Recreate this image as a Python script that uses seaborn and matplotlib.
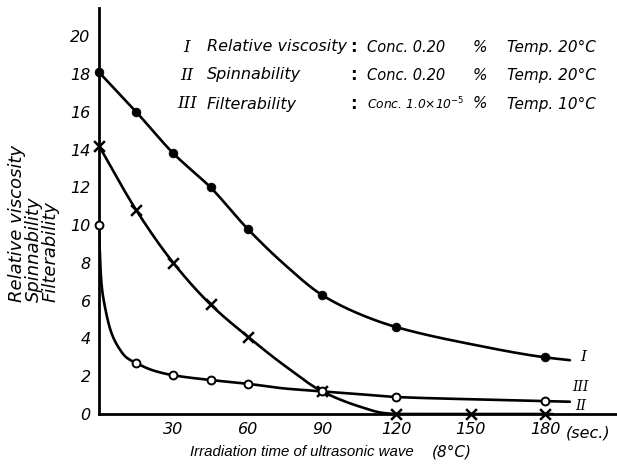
import numpy as np
import pandas as pd
import matplotlib
matplotlib.use("Agg")
import matplotlib.pyplot as plt
import seaborn as sns

# marker data
t_visc = [0, 15, 30, 45, 60, 90, 120, 180]
v_visc = [18.1, 16.0, 13.8, 12.0, 9.8, 6.3, 4.6, 3.0]
t_spin = [0, 15, 30, 45, 60, 90, 120, 150, 180]
v_spin = [14.2, 10.8, 8.0, 5.8, 4.1, 1.2, 0.0, 0.0, 0.0]
t_filt = [0, 15, 30, 45, 60, 90, 120, 180]
v_filt = [10.0, 2.7, 2.05, 1.8, 1.6, 1.2, 0.9, 0.7]

# traced points along the drawn curves
tr_visc_t = [0, 15, 30, 45, 60, 75, 90, 105, 120, 150, 180, 190]
tr_visc_v = [18.1, 16.0, 13.8, 12.0, 9.8, 7.9, 6.3, 5.3, 4.6, 3.7, 3.0, 2.85]
tr_spin_t = [0, 15, 30, 45, 60, 75, 90, 105, 115, 120, 150, 180, 183]
tr_spin_v = [14.2, 10.8, 8.0, 5.8, 4.1, 2.55, 1.2, 0.4, 0.05, 0.0, 0.0, 0.0, 0.0]
tr_filt_t = [0, 0.5, 1, 2.5, 5, 8, 11, 15, 22, 30, 45, 60, 75, 90, 105, 120, 150, 180, 190]
tr_filt_v = [10.0, 8.0, 6.9, 5.6, 4.3, 3.5, 3.0, 2.7, 2.3, 2.05, 1.8, 1.6, 1.35, 1.2, 1.05, 0.9, 0.78, 0.68, 0.65]

y_ticks = list(range(0, 21, 2))
x_ticks = [30, 60, 90, 120, 150, 180]

legend_rows = [
    ("I", "Relative viscosity", "Conc. 0.20", "%", "Temp. 20°C"),
    ("II", "Spinnability", "Conc. 0.20", "%", "Temp. 20°C"),
    ("III", "Filterability", "Conc. 1.0×10$^{-5}$", "%", "Temp. 10°C"),
]


def pchip(x, y, xn):
    x = np.asarray(x, float); y = np.asarray(y, float)
    h = np.diff(x); d = np.diff(y) / h
    m = np.zeros_like(y)
    for k in range(1, len(x) - 1):
        if d[k - 1] * d[k] > 0:
            w1 = 2 * h[k] + h[k - 1]; w2 = h[k] + 2 * h[k - 1]
            m[k] = (w1 + w2) / (w1 / d[k - 1] + w2 / d[k])
    m[0] = d[0]; m[-1] = d[-1]
    idx = np.clip(np.searchsorted(x, xn) - 1, 0, len(h) - 1)
    s = (xn - x[idx]) / h[idx]
    h00 = 2 * s**3 - 3 * s**2 + 1; h10 = s**3 - 2 * s**2 + s
    h01 = -2 * s**3 + 3 * s**2; h11 = s**3 - s**2
    return h00 * y[idx] + h10 * h[idx] * m[idx] + h01 * y[idx + 1] + h11 * h[idx] * m[idx + 1]


sns.set_theme(style="white")
plt.rcParams['font.family'] = ['DejaVu Sans']
plt.rcParams['text.color'] = 'black'
plt.rcParams['mathtext.fontset'] = 'dejavusans'

fig = plt.figure(figsize=(6.17, 4.66), dpi=100)
ax = fig.add_axes([99 / 617, 52 / 466, 518 / 617, 406 / 466])

lw = 1.9
for tt, vv in [(tr_visc_t, tr_visc_v), (tr_spin_t, tr_spin_v), (tr_filt_t, tr_filt_v)]:
    xs = np.linspace(tt[0], tt[-1], 600)
    ys = pchip(tt, vv, xs)
    sns.lineplot(x=xs, y=ys, ax=ax, color="black", lw=lw, sort=False)

sns.scatterplot(x=t_visc, y=v_visc, ax=ax, marker="o", s=40, color="black",
                edgecolor="black", zorder=5, clip_on=False)
sns.scatterplot(x=t_spin, y=v_spin, ax=ax, marker="x", s=60, color="black",
                linewidth=1.8, zorder=5, clip_on=False)
sns.scatterplot(x=t_filt, y=v_filt, ax=ax, marker="o", s=32, facecolor="white",
                edgecolor="black", linewidth=1.4, zorder=5, clip_on=False)

ax.set_xlim(0, 209)
ax.set_ylim(0, 21.5)
ax.set_yticks(y_ticks)
ax.set_xticks(x_ticks)
for sp in ["top", "right"]:
    ax.spines[sp].set_visible(False)
for sp in ["left", "bottom"]:
    ax.spines[sp].set_linewidth(2.0)
    ax.spines[sp].set_color("black")
ax.tick_params(direction="in", length=3, width=1.2, colors="black",
               labelsize=11.5, pad=6)
for lab in ax.get_xticklabels() + ax.get_yticklabels():
    lab.set_fontstyle("italic")

fig.text(566 / 617, 33 / 466, "(sec.)", ha="left", va="center", fontsize=11.5, style="italic")

fig.text(190 / 617, 14 / 466, "Irradiation time of ultrasonic wave", ha="left",
         va="center", fontsize=10.8, style="italic", family="Liberation Sans")
fig.text(432 / 617, 14 / 466, "(8°C)", ha="left", va="center", fontsize=11, style="italic")

fig.text(34 / 617, 243 / 466, "Relative viscosity\nSpinnability\nFilterability",
         rotation=90, ha="center", va="center", fontsize=13, style="italic",
         linespacing=0.9, multialignment="left")

ys_leg = [47, 75, 104]
for (num, name, conc, pct, temp), yp in zip(legend_rows, ys_leg):
    yy = (466 - yp) / 466
    fig.text(187 / 617, yy, num, ha="center", va="center", fontsize=12, style="italic", family="DejaVu Serif")
    fig.text(207 / 617, yy, name, ha="left", va="center", fontsize=11.5, style="italic")
    fig.text(353 / 617, yy, ":", ha="center", va="center", fontsize=12, weight="bold")
    fig.text(367 / 617, yy, conc, ha="left", va="center", fontsize=10.5 if num != "III" else 8.8, style="italic")
    fig.text(480 / 617, yy, pct, ha="center", va="center", fontsize=11, style="italic")
    fig.text(507 / 617, yy, temp, ha="left", va="center", fontsize=11, style="italic")

# curve labels at line ends
ax.text(194, 3.0, "I", fontsize=11, style="italic", family="DejaVu Serif", va="center")
ax.text(191, 1.45, "III", fontsize=10, style="italic", family="DejaVu Serif", va="center")
ax.text(192, 0.45, "II", fontsize=10, style="italic", family="DejaVu Serif", va="center")

fig.savefig("out.png", dpi=100, facecolor="white")
